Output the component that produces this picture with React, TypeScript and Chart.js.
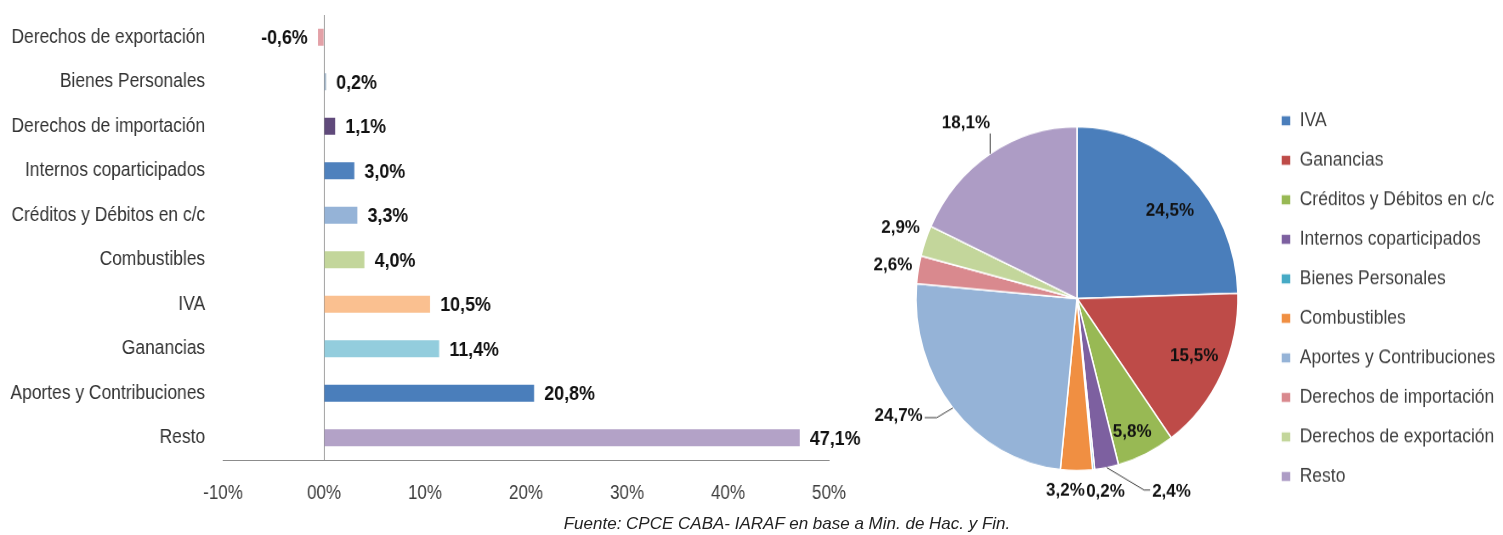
import React, { useEffect, useRef } from 'react';
import { Chart, registerables } from 'chart.js';

Chart.register(...registerables);

// ---------- Data ----------
const barCategories = [
  'Derechos de exportación',
  'Bienes Personales',
  'Derechos de importación',
  'Internos coparticipados',
  'Créditos y Débitos en c/c',
  'Combustibles',
  'IVA',
  'Ganancias',
  'Aportes y Contribuciones',
  'Resto',
];
const barValues = [-0.6, 0.2, 1.1, 3.0, 3.3, 4.0, 10.5, 11.4, 20.8, 47.1];
const barColors = [
  '#E3A1A7', '#9AAFC4', '#604A7B', '#4F81BD', '#95B3D7',
  '#C3D69B', '#FAC090', '#93CDDD', '#4A7EBB', '#B3A2C7',
];
const xTickValues = [-10, 0, 10, 20, 30, 40, 50];
const xTickLabels = ['-10%', '00%', '10%', '20%', '30%', '40%', '50%'];

const pieCategories = [
  'IVA',
  'Ganancias',
  'Créditos y Débitos en c/c',
  'Internos coparticipados',
  'Bienes Personales',
  'Combustibles',
  'Aportes y Contribuciones',
  'Derechos de importación',
  'Derechos de exportación',
  'Resto',
];
const pieValues = [24.5, 15.5, 5.8, 2.4, 0.2, 3.2, 24.7, 2.6, 2.9, 18.1];
const pieColors = [
  '#4A7EBB', '#BE4B48', '#98B954', '#7D60A0', '#46AAC5',
  '#F08F42', '#95B3D7', '#D9898E', '#C3D69B', '#AD9CC5',
];
// label layout (style): angle shift from slice middle (deg), distance in radii, leader line
const pieLabelAngleShift = [4.4, -1.7, 1.6, -16.9, -3.0, 3.5, 8.0, 0, 1.0, -1.5];
const pieLabelRadius = [0.77, 0.8, 0.85, 1.27, 1.14, 1.12, 1.3, 1.16, 1.17, 1.23];
const pieLabelLeader = [false, false, false, true, false, false, true, false, false, true];

const sourceNote = 'Fuente: CPCE CABA- IARAF en base a Min. de Hac. y Fin.';

// ---------- Helpers ----------
const fmt = (v: number) => v.toFixed(1).replace('.', ',') + '%';
const SANS = '"Liberation Sans", Arial, sans-serif';
const SQUEEZE = 0.85; // horizontal condensing of the bar chart canvas

const barLabelPlugin = {
  id: 'barValueLabels',
  afterDatasetsDraw(chart: any) {
    const { ctx } = chart;
    const meta = chart.getDatasetMeta(0);
    const data = chart.data.datasets[0].data as number[];
    ctx.save();
    ctx.font = `bold 21px ${SANS}`;
    ctx.fillStyle = '#111';
    ctx.textBaseline = 'middle';
    meta.data.forEach((bar: any, i: number) => {
      const v = data[i];
      const { x, y } = bar.getProps(['x', 'y'], true);
      if (v < 0) {
        ctx.textAlign = 'right';
        ctx.fillText(fmt(v), x - 12, y + 1);
      } else {
        ctx.textAlign = 'left';
        ctx.fillText(fmt(v), x + 12, y + 1);
      }
    });
    ctx.restore();
  },
};

const pieLabelPlugin = {
  id: 'pieValueLabels',
  afterDatasetsDraw(chart: any) {
    const { ctx } = chart;
    const meta = chart.getDatasetMeta(0);
    const data = chart.data.datasets[0].data as number[];
    ctx.save();
    ctx.font = `bold 17px ${SANS}`;
    ctx.fillStyle = '#111';
    ctx.textBaseline = 'middle';
    ctx.textAlign = 'center';
    ctx.strokeStyle = '#444';
    ctx.lineWidth = 1;
    meta.data.forEach((arc: any, i: number) => {
      const { x, y, startAngle, endAngle, outerRadius } = arc.getProps(
        ['x', 'y', 'startAngle', 'endAngle', 'outerRadius'],
        true
      );
      const midBase = (startAngle + endAngle) / 2;
      const mid = midBase + (pieLabelAngleShift[i] * Math.PI) / 180;
      const r = outerRadius * pieLabelRadius[i];
      const lx = x + r * Math.cos(mid);
      const ly = y + r * Math.sin(mid);
      const text = fmt(data[i]);
      ctx.fillText(text, lx, ly);
      if (pieLabelLeader[i]) {
        const w = ctx.measureText(text).width;
        const h = 13;
        const ex = x + outerRadius * Math.cos(midBase);
        const ey = y + outerRadius * Math.sin(midBase);
        ctx.beginPath();
        ctx.moveTo(ex, ey);
        if (Math.abs(ex - lx) < w / 2 + 4) {
          const ty = ey > ly ? ly + h / 2 + 3 : ly - h / 2 - 3;
          ctx.lineTo(ex, ty);
        } else if (ex < lx) {
          const ax = lx - w / 2 - 2;
          ctx.lineTo(ax - 6, ly - 2);
          ctx.lineTo(ax, ly - 2);
        } else {
          const ax = lx + w / 2 + 2;
          ctx.lineTo(ax + 12, ly + 2);
          ctx.lineTo(ax, ly + 2);
        }
        ctx.stroke();
      }
    });
    ctx.restore();
  },
};

export default function App() {
  const barRef = useRef<HTMLCanvasElement | null>(null);
  const pieRef = useRef<HTMLCanvasElement | null>(null);

  useEffect(() => {
    if (!barRef.current || !pieRef.current) return;

    const barW = 1035;
    const bar = new Chart(barRef.current, {
      type: 'bar',
      data: {
        labels: barCategories,
        datasets: [
          {
            data: barValues,
            backgroundColor: barColors,
            barPercentage: 0.38,
            categoryPercentage: 1,
          },
        ],
      },
      options: {
        indexAxis: 'y',
        responsive: false,
        animation: false,
        layout: { padding: { top: 15, right: barW - 829 / SQUEEZE, left: 0, bottom: 0 } },
        plugins: { legend: { display: false }, tooltip: { enabled: false } },
        scales: {
          x: {
            type: 'linear',
            min: -10,
            max: 50,
            afterBuildTicks: (s: any) => {
              s.ticks = xTickValues.map((v) => ({ value: v }));
            },
            ticks: {
              autoSkip: false,
              maxRotation: 0,
              padding: 21,
              color: '#404040',
              font: { family: SANS, size: 20 },
              callback: (_v: any, i: number) => xTickLabels[i],
            },
            grid: {
              drawTicks: false,
              color: (c: any) => (c.tick && c.tick.value === 0 ? '#8c8c8c' : 'rgba(0,0,0,0)'),
              lineWidth: 1,
            },
            border: { display: true, color: '#8c8c8c', width: 1 },
            afterFit: (s: any) => {
              s.height = 50;
            },
          },
          y: {
            ticks: { padding: 21, color: '#333', font: { family: SANS, size: 20.5 } },
            grid: { display: false, drawTicks: false },
            border: { display: false },
            afterFit: (s: any) => {
              s.width = 223 / SQUEEZE;
              s.paddingTop = 0;
              s.paddingBottom = 0;
            },
          },
        },
      },
      plugins: [barLabelPlugin],
    } as any);

    const pie = new Chart(pieRef.current, {
      type: 'pie',
      data: {
        labels: pieCategories,
        datasets: [
          {
            data: pieValues,
            backgroundColor: pieColors,
            borderColor: '#ffffff',
            borderWidth: 1.5,
          },
        ],
      },
      options: {
        responsive: false,
        animation: false,
        radius: 161,
        layout: { padding: { left: 52.5, right: 4.75, top: 58.8, bottom: 0 } },
        plugins: {
          tooltip: { enabled: false },
          legend: {
            position: 'right',
            align: 'center',
            labels: {
              boxWidth: 10,
              boxHeight: 10,
              padding: 19.5,
              color: '#404040',
              font: { family: SANS, size: 17.5 },
            },
          },
        },
      },
      plugins: [pieLabelPlugin],
    } as any);

    return () => {
      bar.destroy();
      pie.destroy();
    };
  }, []);

  return (
    <div
      style={{
        position: 'absolute',
        left: 0,
        top: 0,
        width: 1503,
        height: 535,
        overflow: 'hidden',
        background: '#fff',
      }}
    >
      <div
        style={{
          position: 'absolute',
          left: 0,
          top: 0,
          width: 1035,
          height: 510,
          transform: `scaleX(${SQUEEZE})`,
          transformOrigin: 'top left',
        }}
      >
        <canvas ref={barRef} width={1035} height={510} />
      </div>
      <div
        style={{
          position: 'absolute',
          left: 840,
          top: 0,
          width: 670,
          height: 500,
          transform: 'scaleY(1.0683)',
          transformOrigin: 'top left',
        }}
      >
        <canvas ref={pieRef} width={670} height={500} />
      </div>
      <div
        style={{
          position: 'absolute',
          left: 787,
          top: 514,
          transform: 'translateX(-50%)',
          whiteSpace: 'nowrap',
          fontFamily: SANS,
          fontStyle: 'italic',
          fontSize: 17,
          lineHeight: '20px',
          color: '#222',
        }}
      >
        {sourceNote}
      </div>
    </div>
  );
}
